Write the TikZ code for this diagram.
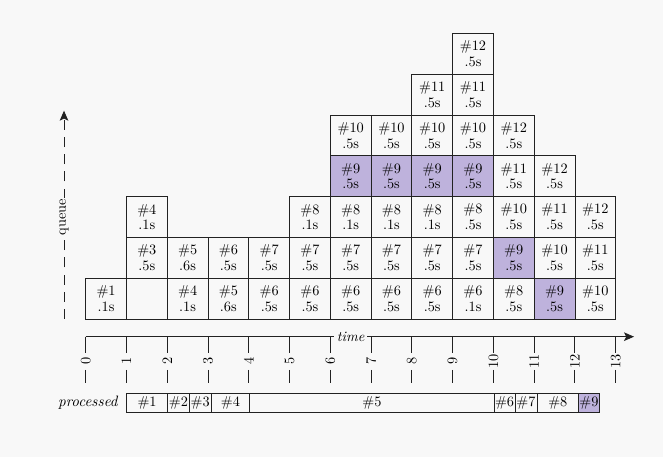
\documentclass[tikz,border=0pt]{standalone}
\usetikzlibrary{arrows.meta}
\definecolor{bg}{HTML}{F8F8F8}
\definecolor{hl}{RGB}{190,178,220}
\definecolor{ln}{HTML}{222222}
\begin{document}
\begin{tikzpicture}[x=1cm,y=1cm,
  cell/.style={draw=ln, line width=0.6pt, minimum width=1cm, minimum height=1cm,
    inner sep=0pt, outer sep=0pt, align=center, font=\fontsize{10}{11}\selectfont},
  hlcell/.style={cell, fill=hl},
  pbox/.style={draw=ln, line width=0.6pt, minimum height=0.48cm, inner sep=0pt,
    outer sep=0pt, font=\fontsize{10}{11}\selectfont},
  axisline/.style={draw=ln, line width=0.7pt},
  tipstyle/.style={-{Stealth[length=7pt,width=6pt,inset=1.5pt]}},
  ticklabel/.style={rotate=90, font=\fontsize{10}{11}\selectfont, inner sep=1pt}]
\useasboundingbox[fill=bg] (-2.102,-3.385) rectangle (14.160,7.824);

% queue cells
\foreach \qc/\qr/\qn/\qt/\qs in {
  0/0/1/.1/cell,
  1/1/3/.5/cell, 1/2/4/.1/cell,
  2/0/4/.1/cell, 2/1/5/.6/cell,
  3/0/5/.6/cell, 3/1/6/.5/cell,
  4/0/6/.5/cell, 4/1/7/.5/cell,
  5/0/6/.5/cell, 5/1/7/.5/cell, 5/2/8/.1/cell,
  6/0/6/.5/cell, 6/1/7/.5/cell, 6/2/8/.1/cell, 6/3/9/.5/hlcell, 6/4/10/.5/cell,
  7/0/6/.5/cell, 7/1/7/.5/cell, 7/2/8/.1/cell, 7/3/9/.5/hlcell, 7/4/10/.5/cell,
  8/0/6/.5/cell, 8/1/7/.5/cell, 8/2/8/.1/cell, 8/3/9/.5/hlcell, 8/4/10/.5/cell, 8/5/11/.5/cell,
  9/0/6/.1/cell, 9/1/7/.5/cell, 9/2/8/.5/cell, 9/3/9/.5/hlcell, 9/4/10/.5/cell, 9/5/11/.5/cell, 9/6/12/.5/cell,
  10/0/8/.5/cell, 10/1/9/.5/hlcell, 10/2/10/.5/cell, 10/3/11/.5/cell, 10/4/12/.5/cell,
  11/0/9/.5/hlcell, 11/1/10/.5/cell, 11/2/11/.5/cell, 11/3/12/.5/cell,
  12/0/10/.5/cell, 12/1/11/.5/cell, 12/2/12/.5/cell}
  \node[\qs] (q-\qc-\qr) at (\qc+0.5,\qr+0.5) {\#\qn\\\qt s};
\node[cell] (q-1-0) at (1.5,0.5) {};

% queue axis
\coordinate (qorig) at (-0.532,0);
\coordinate (qend) at (-0.532,5.11);
\draw[axisline, tipstyle, dash pattern=on 7pt off 5pt] (qorig) -- (qend);
\node[rotate=90, fill=bg, inner sep=1pt, font=\fontsize{10}{11}\selectfont] (qlabel) at (-0.532,2.5) {queue};

% time axis
\coordinate (torig) at (0,-0.434);
\coordinate (tend) at (13.45,-0.434);
\draw[axisline, tipstyle] (torig) -- (tend);
\node[fill=bg, inner sep=2pt, font=\itshape\fontsize{10}{11}\selectfont] (tlabel) at (6.5,-0.434) {time};
\foreach \qk in {0,...,13}{
  \draw[axisline] (\qk,-0.434) -- (\qk,-0.834);
  \node[ticklabel] (tick-\qk) at (\qk,-1.04) {\qk};
  \draw[axisline] (\qk,-1.251) -- (\qk,-1.577);
}

% processed bar
\node[anchor=east, inner sep=0pt, font=\itshape\fontsize{10.5}{12}\selectfont] (plabel) at (0.79,-2.06) {processed};
\node[pbox, minimum width=1.01cm] (p1) at (1.505,-2.064) {\#1};
\node[pbox, minimum width=0.53cm] (p2) at (2.275,-2.064) {\#2};
\node[pbox, minimum width=0.54cm] (p3) at (2.81,-2.064) {\#3};
\node[pbox, minimum width=0.94cm] (p4) at (3.55,-2.064) {\#4};
\node[pbox, minimum width=6.00cm] (p5) at (7.02,-2.064) {\#5};
\node[pbox, minimum width=0.51cm] (p6) at (10.275,-2.064) {\#6};
\node[pbox, minimum width=0.54cm] (p7) at (10.80,-2.064) {\#7};
\node[pbox, minimum width=1.02cm] (p8) at (11.58,-2.064) {\#8};
\node[pbox, minimum width=0.51cm, fill=hl] (p9) at (12.345,-2.064) {\#9};
\end{tikzpicture}
\end{document}
